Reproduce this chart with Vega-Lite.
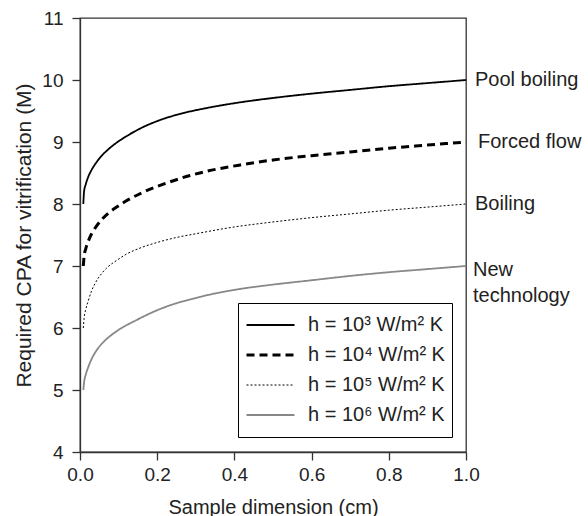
{
  "$schema": "https://vega.github.io/schema/vega-lite/v6.json",
  "width": 386,
  "height": 434,
  "autosize": {"type": "none"},
  "padding": {"left": 80, "top": 18, "right": 122, "bottom": 64},
  "config": {
    "font": "Liberation Sans",
    "view": {"stroke": "#333", "strokeWidth": 1.3},
    "axis": {"domainColor": "#333", "tickColor": "#333", "labelColor": "#222", "titleColor": "#222", "labelFontSize": 19, "titleFontSize": 20, "titleFontWeight": "normal", "tickSize": 8, "grid": false, "domainWidth": 1.3, "tickWidth": 1.3, "labelFlush": false},
    "text": {"font": "Liberation Sans", "fontSize": 20, "color": "#222"}
  },
  "datasets": {
    "curves": [
      {"h": "h = 10³ W/m² K", "d": 0.0086, "c": 8.0},
      {"h": "h = 10³ W/m² K", "d": 0.0105, "c": 8.2},
      {"h": "h = 10³ W/m² K", "d": 0.015, "c": 8.32},
      {"h": "h = 10³ W/m² K", "d": 0.0215, "c": 8.44},
      {"h": "h = 10³ W/m² K", "d": 0.03, "c": 8.55},
      {"h": "h = 10³ W/m² K", "d": 0.04, "c": 8.65},
      {"h": "h = 10³ W/m² K", "d": 0.055, "c": 8.77},
      {"h": "h = 10³ W/m² K", "d": 0.073, "c": 8.88},
      {"h": "h = 10³ W/m² K", "d": 0.095, "c": 8.99},
      {"h": "h = 10³ W/m² K", "d": 0.117, "c": 9.08},
      {"h": "h = 10³ W/m² K", "d": 0.16, "c": 9.23},
      {"h": "h = 10³ W/m² K", "d": 0.21, "c": 9.36},
      {"h": "h = 10³ W/m² K", "d": 0.27, "c": 9.47},
      {"h": "h = 10³ W/m² K", "d": 0.33, "c": 9.55},
      {"h": "h = 10³ W/m² K", "d": 0.415, "c": 9.64},
      {"h": "h = 10³ W/m² K", "d": 0.5, "c": 9.71},
      {"h": "h = 10³ W/m² K", "d": 0.6, "c": 9.78},
      {"h": "h = 10³ W/m² K", "d": 0.7, "c": 9.84},
      {"h": "h = 10³ W/m² K", "d": 0.8, "c": 9.9},
      {"h": "h = 10³ W/m² K", "d": 0.9, "c": 9.95},
      {"h": "h = 10³ W/m² K", "d": 1.0, "c": 10.0},
      {"h": "h = 10⁴ W/m² K", "d": 0.0086, "c": 7.0},
      {"h": "h = 10⁴ W/m² K", "d": 0.0105, "c": 7.15},
      {"h": "h = 10⁴ W/m² K", "d": 0.015, "c": 7.28},
      {"h": "h = 10⁴ W/m² K", "d": 0.0215, "c": 7.4},
      {"h": "h = 10⁴ W/m² K", "d": 0.03, "c": 7.52},
      {"h": "h = 10⁴ W/m² K", "d": 0.04, "c": 7.62},
      {"h": "h = 10⁴ W/m² K", "d": 0.055, "c": 7.74},
      {"h": "h = 10⁴ W/m² K", "d": 0.073, "c": 7.85},
      {"h": "h = 10⁴ W/m² K", "d": 0.095, "c": 7.95},
      {"h": "h = 10⁴ W/m² K", "d": 0.117, "c": 8.04},
      {"h": "h = 10⁴ W/m² K", "d": 0.16, "c": 8.18},
      {"h": "h = 10⁴ W/m² K", "d": 0.23, "c": 8.35},
      {"h": "h = 10⁴ W/m² K", "d": 0.285, "c": 8.46},
      {"h": "h = 10⁴ W/m² K", "d": 0.33, "c": 8.53},
      {"h": "h = 10⁴ W/m² K", "d": 0.415, "c": 8.63},
      {"h": "h = 10⁴ W/m² K", "d": 0.5, "c": 8.71},
      {"h": "h = 10⁴ W/m² K", "d": 0.6, "c": 8.78},
      {"h": "h = 10⁴ W/m² K", "d": 0.7, "c": 8.84},
      {"h": "h = 10⁴ W/m² K", "d": 0.8, "c": 8.9},
      {"h": "h = 10⁴ W/m² K", "d": 0.9, "c": 8.95},
      {"h": "h = 10⁴ W/m² K", "d": 1.0, "c": 9.0},
      {"h": "h = 10⁵ W/m² K", "d": 0.0086, "c": 6.0},
      {"h": "h = 10⁵ W/m² K", "d": 0.0105, "c": 6.15},
      {"h": "h = 10⁵ W/m² K", "d": 0.015, "c": 6.3},
      {"h": "h = 10⁵ W/m² K", "d": 0.0215, "c": 6.44},
      {"h": "h = 10⁵ W/m² K", "d": 0.03, "c": 6.6},
      {"h": "h = 10⁵ W/m² K", "d": 0.04, "c": 6.73},
      {"h": "h = 10⁵ W/m² K", "d": 0.055, "c": 6.87},
      {"h": "h = 10⁵ W/m² K", "d": 0.073, "c": 6.99},
      {"h": "h = 10⁵ W/m² K", "d": 0.095, "c": 7.09},
      {"h": "h = 10⁵ W/m² K", "d": 0.117, "c": 7.18},
      {"h": "h = 10⁵ W/m² K", "d": 0.16, "c": 7.3},
      {"h": "h = 10⁵ W/m² K", "d": 0.2, "c": 7.38},
      {"h": "h = 10⁵ W/m² K", "d": 0.25, "c": 7.46},
      {"h": "h = 10⁵ W/m² K", "d": 0.3, "c": 7.52},
      {"h": "h = 10⁵ W/m² K", "d": 0.4, "c": 7.63},
      {"h": "h = 10⁵ W/m² K", "d": 0.5, "c": 7.71},
      {"h": "h = 10⁵ W/m² K", "d": 0.6, "c": 7.78},
      {"h": "h = 10⁵ W/m² K", "d": 0.7, "c": 7.84},
      {"h": "h = 10⁵ W/m² K", "d": 0.8, "c": 7.9},
      {"h": "h = 10⁵ W/m² K", "d": 0.9, "c": 7.95},
      {"h": "h = 10⁵ W/m² K", "d": 1.0, "c": 8.0},
      {"h": "h = 10⁶ W/m² K", "d": 0.0086, "c": 5.0},
      {"h": "h = 10⁶ W/m² K", "d": 0.0105, "c": 5.12},
      {"h": "h = 10⁶ W/m² K", "d": 0.015, "c": 5.25},
      {"h": "h = 10⁶ W/m² K", "d": 0.0215, "c": 5.37},
      {"h": "h = 10⁶ W/m² K", "d": 0.03, "c": 5.5},
      {"h": "h = 10⁶ W/m² K", "d": 0.043, "c": 5.64},
      {"h": "h = 10⁶ W/m² K", "d": 0.06, "c": 5.77},
      {"h": "h = 10⁶ W/m² K", "d": 0.08, "c": 5.88},
      {"h": "h = 10⁶ W/m² K", "d": 0.1, "c": 5.97},
      {"h": "h = 10⁶ W/m² K", "d": 0.147, "c": 6.13},
      {"h": "h = 10⁶ W/m² K", "d": 0.19, "c": 6.26},
      {"h": "h = 10⁶ W/m² K", "d": 0.24, "c": 6.38},
      {"h": "h = 10⁶ W/m² K", "d": 0.285, "c": 6.46},
      {"h": "h = 10⁶ W/m² K", "d": 0.33, "c": 6.53},
      {"h": "h = 10⁶ W/m² K", "d": 0.415, "c": 6.63},
      {"h": "h = 10⁶ W/m² K", "d": 0.5, "c": 6.7},
      {"h": "h = 10⁶ W/m² K", "d": 0.6, "c": 6.77},
      {"h": "h = 10⁶ W/m² K", "d": 0.7, "c": 6.84},
      {"h": "h = 10⁶ W/m² K", "d": 0.8, "c": 6.9},
      {"h": "h = 10⁶ W/m² K", "d": 0.9, "c": 6.95},
      {"h": "h = 10⁶ W/m² K", "d": 1.0, "c": 7.0}
    ],
    "labels": [
      {"d": 1.0, "c": 10.0, "t": "Pool boiling", "g": "a"},
      {"d": 1.0, "c": 9.0, "t": "Forced flow", "g": "b"},
      {"d": 1.0, "c": 8.0, "t": "Boiling", "g": "a"},
      {"d": 1.0, "c": 7.0, "t": ["New", "technology"], "g": "c"}
    ]
  },
  "layer": [
    {
      "data": {"name": "curves"},
      "mark": {"type": "line", "interpolate": "monotone", "strokeCap": "butt"},
      "encoding": {
        "x": {"field": "d", "type": "quantitative", "scale": {"domain": [0, 1]},
              "axis": {"values": [0, 0.2, 0.4, 0.6, 0.8, 1], "format": ".1f", "title": "Sample dimension (cm)", "labelPadding": 5, "titlePadding": 13}},
        "y": {"field": "c", "type": "quantitative", "scale": {"domain": [4, 11]},
              "axis": {"values": [4, 5, 6, 7, 8, 9, 10, 11], "format": "d", "title": "Required CPA for vitrification (M)", "titleFontSize": 21, "labelPadding": 9, "titlePadding": 7}},
        "color": {"field": "h", "type": "nominal",
                  "scale": {"domain": ["h = 10³ W/m² K", "h = 10⁴ W/m² K", "h = 10⁵ W/m² K", "h = 10⁶ W/m² K"], "range": ["#000000", "#000000", "#000000", "#888888"]},
                  "legend": {"title": null, "orient": "none", "legendX": 158, "legendY": 285, "padding": 7, "strokeColor": "#000", "fillColor": "#fff", "symbolType": "stroke", "symbolSize": 2304, "clipHeight": 30, "rowPadding": -1, "labelFontSize": 20, "labelColor": "#222", "labelOffset": 12, "labelLimit": 300}},
        "strokeDash": {"field": "h", "type": "nominal",
                  "scale": {"domain": ["h = 10³ W/m² K", "h = 10⁴ W/m² K", "h = 10⁵ W/m² K", "h = 10⁶ W/m² K"], "range": [[1, 0], [8, 5], [2, 2], [1, 0]]}},
        "strokeWidth": {"field": "h", "type": "nominal",
                  "scale": {"type": "ordinal", "domain": ["h = 10³ W/m² K", "h = 10⁴ W/m² K", "h = 10⁵ W/m² K", "h = 10⁶ W/m² K"], "range": [1.8, 3, 1, 1.8]}}
      }
    },
    {
      "data": {"name": "labels"},
      "transform": [{"filter": "datum.g == 'a'"}],
      "mark": {"type": "text", "align": "left", "baseline": "middle", "dx": 9},
      "encoding": {
        "x": {"field": "d", "type": "quantitative"},
        "y": {"field": "c", "type": "quantitative"},
        "text": {"field": "t"}
      }
    },
    {
      "data": {"name": "labels"},
      "transform": [{"filter": "datum.g == 'b'"}],
      "mark": {"type": "text", "align": "left", "baseline": "middle", "dx": 12},
      "encoding": {
        "x": {"field": "d", "type": "quantitative"},
        "y": {"field": "c", "type": "quantitative"},
        "text": {"field": "t"}
      }
    },
    {
      "data": {"name": "labels"},
      "transform": [{"filter": "datum.g == 'c'"}],
      "mark": {"type": "text", "align": "left", "baseline": "middle", "dx": 7, "dy": 4, "lineHeight": 26},
      "encoding": {
        "x": {"field": "d", "type": "quantitative"},
        "y": {"field": "c", "type": "quantitative"},
        "text": {"field": "t"}
      }
    }
  ]
}
